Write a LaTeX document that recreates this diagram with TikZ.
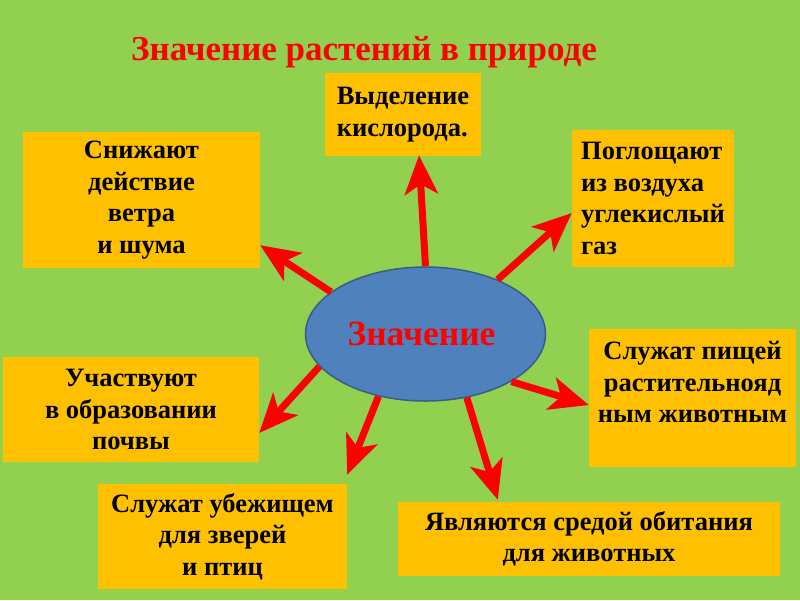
\documentclass[tikz,border=0pt]{standalone}
\usepackage{fontspec}
\setmainfont{Liberation Serif}
\usetikzlibrary{arrows.meta,calc,shapes.geometric}
\definecolor{bgc}{HTML}{92D050}
\definecolor{boxc}{HTML}{FFC000}
\definecolor{ellc}{HTML}{4F81BD}
\definecolor{elld}{HTML}{385D8A}
\definecolor{redc}{HTML}{FF0000}
\begin{document}
\begin{tikzpicture}[x=1pt,y=-1pt,
  box/.style={fill=boxc, draw=none, inner sep=0pt, font=\fontsize{26.5}{31.5}\selectfont\bfseries, align=center, text=black},
  arr/.style={draw=redc, line width=7pt, -{Stealth[length=39pt,width=33pt,inset=10pt]}},
]
\fill[bgc] (0,0) rectangle (800,600);
\useasboundingbox (0,0) rectangle (800,600);
\node[font=\fontsize{35}{40}\selectfont\bfseries, text=redc] (title) at (364,52) {Значение растений в природе};
\node[box, minimum width=156, minimum height=83, align=left] (top) at (403,114.5) {Выделение\\кислорода.};
\node[box, minimum width=237, minimum height=136] (left) at (141.5,200) {Снижают\\действие\\ветра\\и шума};
\node[box, minimum width=162, minimum height=137, align=left] (rtop) at (653,198.5) {Поглощают\\из воздуха\\углекислый\\газ};
\node[box, minimum width=207, minimum height=138] (rmid) at (692.5,398) {Служат пищей\\растительнояд\\ным животным\\\mbox{}};
\node[box, minimum width=382, minimum height=74] (bright) at (589,539) {Являются средой обитания\\для животных};
\node[box, minimum width=249, minimum height=105] (bleft) at (222.5,536.5) {Служат убежищем\\для зверей\\и птиц};
\node[box, minimum width=256, minimum height=105] (lmid) at (131,409.5) {Участвуют\\в образовании\\почвы};
\node[ellipse, fill=ellc, draw=elld, line width=1.5pt, minimum width=240, minimum height=134, inner sep=0pt,
      font=\fontsize{35.5}{40}\selectfont\bfseries, text=redc] (c) at (425.5,334) {\hspace*{-8pt}Значение};
\draw[arr] (c.90) -- ($(top.south)+(16,-1)$);
\draw[arr] (c.37) -- ($(rtop.west)+(0,14.5)$);
\draw[arr] (c.156) -- ($(left.south east)+(0,-23)$);
\draw[arr] (c.197) -- ($(lmid.east)+(0,23.5)$);
\draw[arr] (c.233) -- ($(bleft.north east)+(0,-9)$);
\draw[arr] (c.303) -- ($(bright.north west)+(100,-2)$);
\draw[arr] (c.331) -- ($(rmid.west)+(0,7)$);
\end{tikzpicture}
\end{document}
